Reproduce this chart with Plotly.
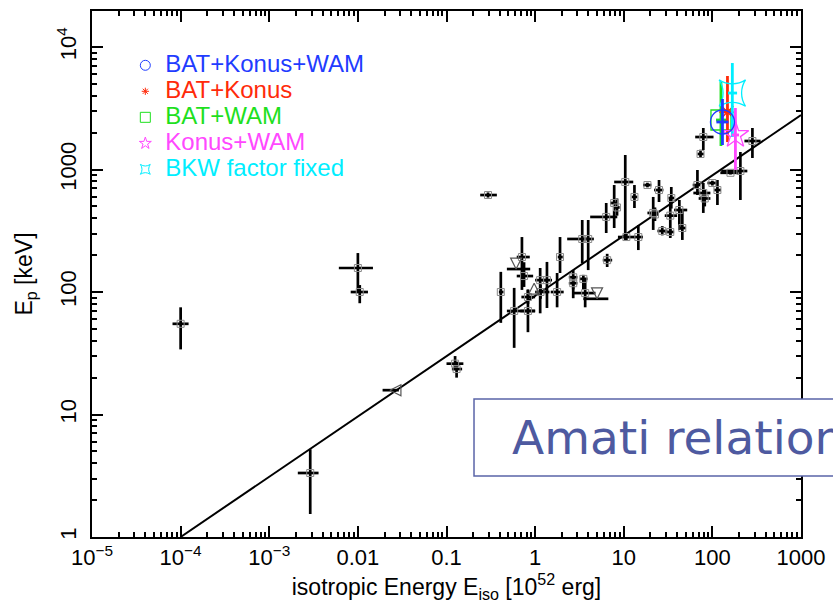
import plotly.graph_objects as go
import math

# ---------------- data ----------------
# black detections: Eiso [1e52 erg], Ep [keV], lower/upper bounds of error bars
E      = [1.0e-4, 0.0100, 0.0105, 0.0029, 0.125, 0.13, 0.294, 0.41, 0.58, 0.83, 0.71, 0.75, 0.83,
          1.14, 1.36, 1.15, 1.77, 1.91, 2.69, 2.69, 3.5, 3.67, 6.5, 3.4, 3.97, 6.34, 7.8, 8.4,
          10.4, 13.2, 10.7, 14.6, 18.5, 25, 21.5, 22.5, 27.2, 33.5, 33.5, 34.4, 42.4, 45.8,
          67.8, 79, 82, 100, 114, 73.5, 79, 283, 207, 160]
Ep     = [55, 157, 100, 3.33, 26, 23.5, 619, 100, 70, 70, 193, 135, 91,
          125, 125, 100, 100, 193, 132, 118, 128, 98, 182, 271, 271, 410, 533, 490,
          791, 597, 281, 281, 747, 680, 442, 430, 315, 420, 309, 585, 467, 333,
          747, 643, 580, 776, 680, 1339, 1842, 1709, 972, 940]
E_lo   = [8.1e-5, 0.0061, 0.0083, 0.0021, 0.100, 0.115, 0.24, 0.39, 0.48, 0.68, 0.62, 0.62, 0.70,
          1.0, 1.2, 1.0, 1.5, 1.8, 2.4, 2.4, 3.2, 2.69, 5.8, 2.3, 3.5, 4.18, 7.0, 7.8,
          7.8, 12.3, 8.6, 13.0, 16.5, 22, 18.5, 20, 24, 29, 29, 32, 37, 42,
          60, 61, 70, 88, 105, 68, 64, 230, 126, 123]
E_hi   = [1.23e-4, 0.0148, 0.0130, 0.0036, 0.155, 0.15, 0.37, 0.44, 1.0, 1.0, 0.87, 0.95, 1.0,
          1.4, 1.55, 1.45, 2.1, 2.05, 3.0, 3.0, 3.9, 4.8, 7.4, 4.0, 4.6, 8.45, 8.6, 9.0,
          12.8, 14.2, 13.5, 16.5, 20.5, 28, 25, 25, 31, 40, 37, 37, 52, 50,
          73, 95, 95, 112, 125, 80, 103, 350, 248, 197]
Ep_lo  = [34, 100, 81, 1.54, 23, 20, 590, 56, 35, 47, 104, 110, 80,
          67, 74, 88, 75, 143, 89, 105, 104, 75, 160, 172, 151, 303, 333, 420,
          266, 485, 265, 220, 715, 543, 321, 380, 290, 276, 285, 480, 321, 266,
          619, 442, 500, 740, 513, 1250, 1443, 1242, 564, 910]
Ep_hi  = [75, 208, 114, 5.2, 30, 27, 650, 146, 108, 104, 281, 175, 105,
          157, 176, 115, 143, 281, 151, 130, 138, 128, 205, 387, 387, 533, 747, 580,
          1313, 747, 300, 352, 780, 821, 597, 490, 345, 597, 335, 720, 564, 467,
          991, 776, 680, 810, 821, 1450, 2183, 2183, 1390, 970]

# limits
lim_E      = [0.023, 0.61, 5.0, 0.975]
lim_Ep     = [15.8, 154, 88, 118]
lim_E_lo   = [0.019, 0.48, 3.5, 0.975]
lim_E_hi   = [0.029, 0.88, 6.7, 0.975]
lim_symbol = ["arrow-left-open", "arrow-down-open", "arrow-down-open", "arrow-up-open"]

# GRB with several instrument combinations
inst_names  = ["BAT+WAM", "BAT+Konus", "BKW factor fixed", "Konus+WAM", "BAT+Konus+WAM"]
inst_E      = [125, 148, 168, 182, 130]
inst_Ep     = [2536, 2946, 4210, 1914, 2443]
inst_E_lo   = [110, 135, 150, 165, 111]
inst_E_hi   = [145, 165, 190, 200, 152]
inst_Ep_lo  = [1556, 1676, 1842, 991, 1585]
inst_Ep_hi  = [5176, 5800, 7400, 3177, 3764]
inst_colors = ["#1ee01e", "#ff2a0a", "#00eeff", "#ff48ff", "#1f3cff"]
inst_symbol = ["square-open", "asterisk-open", "star-square-open", "star-open", "circle-open"]
inst_size   = [20, 14, 24, 20, 24]
legend_order = ["BAT+Konus+WAM", "BAT+Konus", "BAT+WAM", "Konus+WAM", "BKW factor fixed"]
legend_size  = {"BAT+Konus+WAM": 10, "BAT+Konus": 6, "BAT+WAM": 10, "Konus+WAM": 9, "BKW factor fixed": 9}

# Amati relation line
amati_E     = [1e-4, 1000]
AMATI_SLOPE = 0.492
AMATI_LOGE0 = -4.0   # Ep = 1 keV at this log Eiso

x_tickvals = [1e-5, 1e-4, 1e-3, 0.01, 0.1, 1, 10, 100, 1000]
x_ticktext = ["10<sup>\u22125</sup>", "10<sup>\u22124</sup>", "10<sup>\u22123</sup>",
              "0.01", "0.1", "1", "10", "100", "1000"]
y_tickvals = [1, 10, 100, 1000, 10000]
y_ticktext = ["1", "10", "100", "1000", "10<sup>4</sup>"]

# ---------------- figure ----------------
fig = go.Figure()

amati_Ep = [10 ** (AMATI_SLOPE * (math.log10(e) - AMATI_LOGE0)) for e in amati_E]
fig.add_trace(go.Scatter(x=amati_E, y=amati_Ep, mode="lines",
                         line=dict(color="black", width=2), showlegend=False, hoverinfo="skip"))

fig.add_trace(go.Scatter(
    x=E, y=Ep, mode="markers", showlegend=False,
    marker=dict(symbol="square-open", size=7, color="#8a8a8a", line=dict(width=1)),
    error_x=dict(type="data", symmetric=False,
                 array=[h - v for h, v in zip(E_hi, E)],
                 arrayminus=[v - l for v, l in zip(E, E_lo)],
                 color="black", thickness=2.7, width=0),
    error_y=dict(type="data", symmetric=False,
                 array=[h - v for h, v in zip(Ep_hi, Ep)],
                 arrayminus=[v - l for v, l in zip(Ep, Ep_lo)],
                 color="black", thickness=2.7, width=0),
))

fig.add_trace(go.Scatter(
    x=lim_E, y=lim_Ep, mode="markers", showlegend=False,
    marker=dict(symbol=lim_symbol, size=11, color="#555555", line=dict(width=1.2)),
    error_x=dict(type="data", symmetric=False,
                 array=[h - v for h, v in zip(lim_E_hi, lim_E)],
                 arrayminus=[v - l for v, l in zip(lim_E, lim_E_lo)],
                 color="black", thickness=2.7, width=0),
))

for i, nm in enumerate(inst_names):
    fig.add_trace(go.Scatter(
        x=[inst_E[i]], y=[inst_Ep[i]], mode="markers", showlegend=False,
        marker=dict(symbol=inst_symbol[i], size=inst_size[i], color=inst_colors[i],
                    line=dict(width=1.3, color=inst_colors[i])),
        error_x=dict(type="data", symmetric=False, array=[inst_E_hi[i] - inst_E[i]],
                     arrayminus=[inst_E[i] - inst_E_lo[i]], color=inst_colors[i],
                     thickness=2.8, width=0),
        error_y=dict(type="data", symmetric=False, array=[inst_Ep_hi[i] - inst_Ep[i]],
                     arrayminus=[inst_Ep[i] - inst_Ep_lo[i]], color=inst_colors[i],
                     thickness=2.8, width=0),
    ))

# legend entries
for nm in legend_order:
    i = inst_names.index(nm)
    fig.add_trace(go.Scatter(
        x=[None], y=[None], mode="markers",
        name=f'<span style="font-size:24px;color:{inst_colors[i]}">{nm}</span>',
        marker=dict(symbol=inst_symbol[i], size=legend_size[nm], color=inst_colors[i],
                    line=dict(width=1, color=inst_colors[i])),
    ))

axis_common = dict(
    type="log", showgrid=False, zeroline=False,
    showline=True, linecolor="black", linewidth=2, mirror="ticks",
    ticks="inside", ticklen=11, tickwidth=1.5, tickcolor="black",
    tickfont=dict(family="Liberation Sans", size=22, color="black"),
    minor=dict(ticks="inside", ticklen=5, tickwidth=1.5, tickcolor="black", showgrid=False),
    tickmode="array",
)

fig.update_xaxes(**axis_common, range=[-5, 3], tickvals=x_tickvals, ticktext=x_ticktext,
                 ticklabelstandoff=0,
                 title=dict(text="isotropic Energy E<sub>iso</sub> [10<sup>52</sup> erg]",
                            font=dict(family="Liberation Sans", size=23, color="black"), standoff=7))
fig.update_xaxes(minor_tickvals=[m * 10.0 ** d for d in range(-5, 3) for m in range(2, 10)])
fig.update_yaxes(**axis_common, range=[0, 4.294], tickvals=y_tickvals, ticktext=y_ticktext,
                 tickangle=-90, ticklabelstandoff=5,
                 title=dict(text="E<sub>p</sub> [keV]",
                            font=dict(family="Liberation Sans", size=23, color="black"), standoff=14))
fig.update_yaxes(minor_tickvals=[m * 10.0 ** d for d in range(0, 5) for m in range(2, 10)])

# Amati relation box
fig.add_shape(type="rect", xref="paper", yref="paper", x0=0.5388, x1=1.2, y0=0.116, y1=0.2624,
              fillcolor="white", line=dict(color="#5a64a8", width=1.5), layer="above")
fig.add_annotation(xref="paper", yref="paper", x=0.5896, y=0.19, xanchor="left", yanchor="middle",
                   text="Amati relation", showarrow=False,
                   font=dict(family="DejaVu Sans", size=47, color="#4e5aa0"))

fig.update_layout(
    width=833, height=603,
    margin=dict(l=92, r=32, t=11, b=66, autoexpand=False),
    paper_bgcolor="white", plot_bgcolor="white",
    legend=dict(x=0.047, y=0.931, xanchor="left", yanchor="top",
                bgcolor="rgba(0,0,0,0)", font=dict(family="Liberation Sans", size=17.7),
                itemsizing="trace"),
)

fig.write_html("out.html")
